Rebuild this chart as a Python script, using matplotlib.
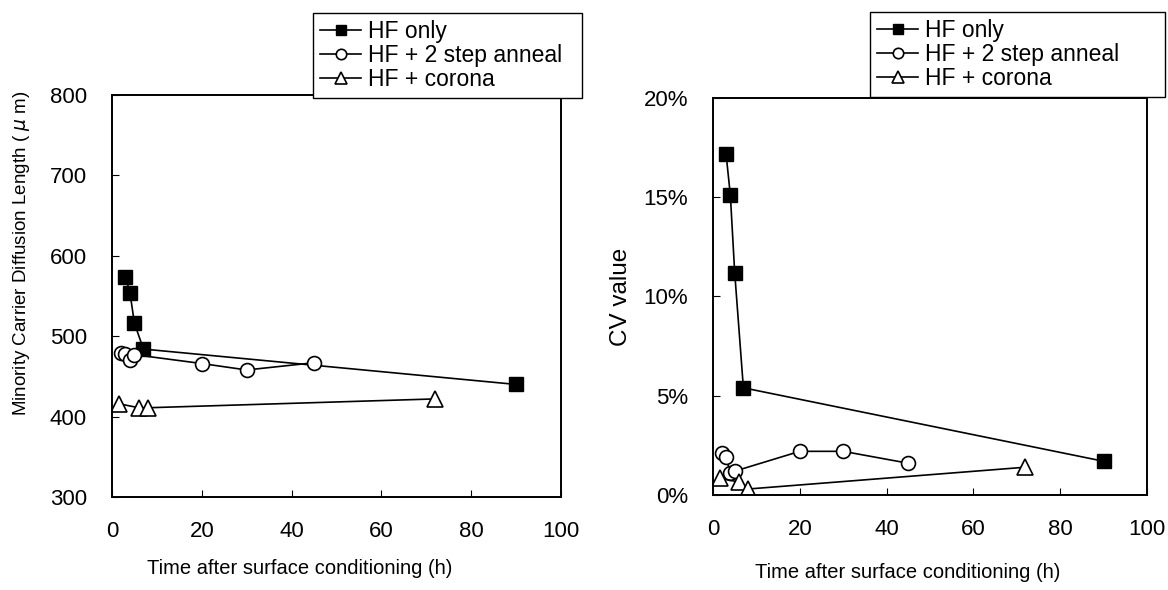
import numpy as np
import matplotlib
matplotlib.use('Agg')
import matplotlib.pyplot as plt
from matplotlib.ticker import PercentFormatter

plt.rcParams['font.family'] = ['Liberation Sans', 'DejaVu Sans']

# time after surface conditioning (h)
t_hf = [3, 4, 5, 7, 90]
t_anneal = [2, 3, 4, 5, 20, 30, 45]
t_corona = [1.5, 6, 8, 72]

# minority carrier diffusion length (um)
len_hf = [574, 554, 516, 484, 440]
len_anneal = [479, 478, 471, 477, 466, 458, 467]
len_corona = [416, 411, 411, 422]

# CV value (%)
cv_hf = [17.2, 15.1, 11.2, 5.4, 1.7]
cv_anneal = [2.1, 1.9, 1.1, 1.2, 2.2, 2.2, 1.6]
cv_corona = [0.85, 0.65, 0.3, 1.4]

labels = ['HF only', 'HF + 2 step anneal', 'HF + corona']

W, H = 1168, 590
fig = plt.figure(figsize=(W / 100, H / 100), dpi=100)
ax1 = fig.add_axes([112 / W, 1 - 497 / H, 449 / W, 402 / H])
ax2 = fig.add_axes([713 / W, 1 - 495 / H, 434 / W, 397 / H])

def draw(ax, ys):
    ax.plot(t_hf, ys[0], color='black', lw=1.2, marker='s', ms=10,
            mfc='black', mec='black', label=labels[0])
    ax.plot(t_anneal, ys[1], color='black', lw=1.2, marker='o', ms=10,
            mfc='white', mec='black', mew=1.2, label=labels[1])
    ax.plot(t_corona, ys[2], color='black', lw=1.2, marker='^', ms=11,
            mfc='white', mec='black', mew=1.2, label=labels[2])
    ax.set_xlim(0, 100)
    ax.set_xticks(np.arange(0, 101, 20))
    ax.tick_params(direction='in', length=5, labelsize=16)
    ax.tick_params(axis='x', pad=17)
    ax.tick_params(axis='y', pad=18)
    for s in ax.spines.values():
        s.set_linewidth(1.4)

draw(ax1, [len_hf, len_anneal, len_corona])
ax1.set_ylim(300, 800)
ax1.set_yticks(np.arange(300, 801, 100))
ax1.set_xlabel('Time after surface conditioning (h)', fontsize=14.5)
ax1.xaxis.set_label_coords((300 - 112) / 449, (497 - 559) / 402)
ax1.set_ylabel('Minority Carrier Diffusion Length ( $\\mu$ m)', fontsize=13.5)
ax1.yaxis.set_label_coords((32 - 112) / 449, (497 - 253) / 402)

draw(ax2, [cv_hf, cv_anneal, cv_corona])
ax2.set_ylim(0, 20)
ax2.set_yticks(np.arange(0, 21, 5))
ax2.yaxis.set_major_formatter(PercentFormatter(xmax=100, decimals=0))
ax2.set_xlabel('Time after surface conditioning (h)', fontsize=14.5)
ax2.xaxis.set_label_coords((908 - 713) / 434, (495 - 563) / 397)
ax2.set_ylabel('CV value', fontsize=17.5)
ax2.yaxis.set_label_coords((632 - 713) / 434, 0.5)

# legend boxes in pixel positions (left, top, width)
for ax, (lx, ty, lw) in [(ax1, (313, 13, 269)), (ax2, (870, 12, 295))]:
    leg = ax.legend(loc='upper left', mode='expand',
                    bbox_to_anchor=(lx / W, 1 - ty / H - 0.1, lw / W, 0.1),
                    bbox_transform=fig.transFigure, borderaxespad=0,
                    fontsize=16.5, fancybox=False, edgecolor='black',
                    framealpha=1, handlelength=1.8, handletextpad=0.3,
                    labelspacing=0.05, borderpad=0.3, markerscale=0.75)
    leg.get_frame().set_linewidth(1.0)
    leg.set_zorder(10)

fig.savefig('out.png', dpi=100)
